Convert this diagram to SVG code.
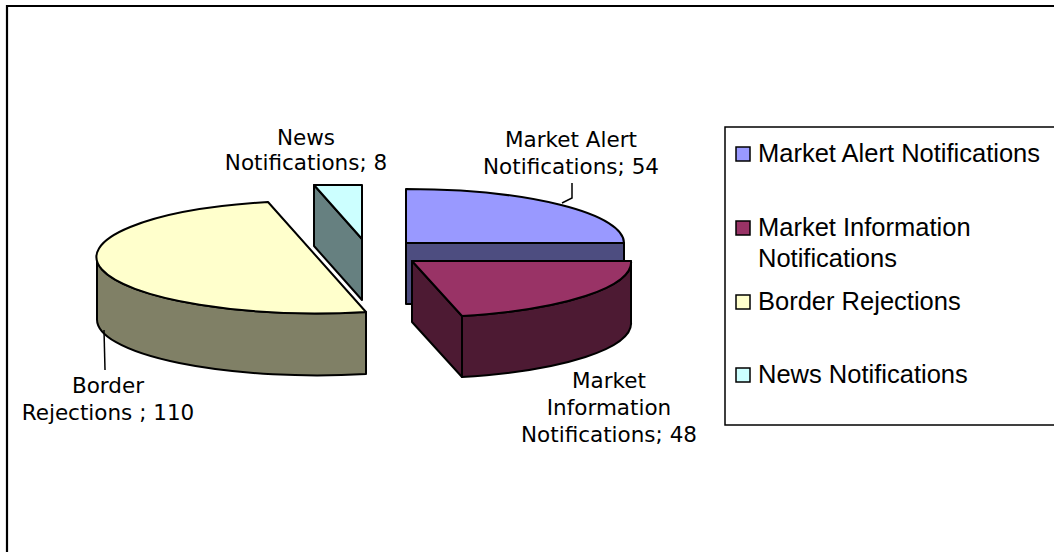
<svg xmlns="http://www.w3.org/2000/svg" width="1054" height="552" viewBox="0 0 1054 552">
<style>
.o{stroke:#000;stroke-width:2;stroke-linejoin:round}
.lbl{font-family:"DejaVu Sans",Verdana,sans-serif;font-size:21.5px;fill:#000;text-anchor:middle}
.leg{font-family:"Liberation Sans",Arial,sans-serif;font-size:25.5px;fill:#000}
.sw{stroke:#000;stroke-width:1.5}
.ln{fill:none;stroke:#000;stroke-width:1.5}
</style>
<rect x="0" y="0" width="1054" height="552" fill="#fff"/>
<path d="M7,560 V6 H1060" fill="none" stroke="#000" stroke-width="2.2"/>
<g id="market-alert">
<rect class="o" x="406" y="243" width="218" height="61" fill="#4D4D80"/>
<path class="o" d="M406,243 L624,243 A218 54 0 0 0 406 189 Z" fill="#9999FF"/>
</g>
<g id="market-information">
<path class="o" d="M412,261 L462,316 L462,377 L412,322 Z" fill="#4D1A33"/>
<path class="o" d="M631,261 A219 55 0 0 1 462 316 L462,377 A219 55 0 0 0 631 322 Z" fill="#4D1A33"/>
<path class="o" d="M412,261 L631,261 A219 55 0 0 1 462 316 Z" fill="#993366"/>
</g>
<g id="border-rejections">
<path class="o" d="M97,257 A220 56 0 0 0 366 312 L366,374 A220 56 0 0 1 97 319 Z" fill="#808066"/>
<path class="o" d="M366,312 L268,202 A219 56 0 0 0 366 312 Z" fill="#FFFFCC"/>
</g>
<g id="news">
<path class="o" d="M314,185 L362,239 L362,300 L314,246 Z" fill="#668080"/>
<path class="o" d="M314,185 L362,185 L362,239 Z" fill="#CCFFFF"/>
</g>
<g id="connectors">
<path class="ln" d="M572,183 L572,198 L562,203"/>
<path class="ln" d="M104,330 L105,370"/>
</g>
<g id="labels">
<text class="lbl" x="306" y="145">News</text>
<text class="lbl" x="306" y="170">Notifications; 8</text>
<text class="lbl" x="571" y="147">Market Alert</text>
<text class="lbl" x="571" y="174">Notifications; 54</text>
<text class="lbl" x="609" y="388">Market</text>
<text class="lbl" x="609" y="415">Information</text>
<text class="lbl" x="609" y="442">Notifications; 48</text>
<text class="lbl" x="108" y="393">Border</text>
<text class="lbl" x="108" y="420">Rejections ; 110</text>
</g>
<g id="legend">
<rect x="725" y="127" width="340" height="298" fill="#fff" stroke="#000" stroke-width="1.5"/>
<rect class="sw" x="736" y="147" width="14" height="14" fill="#9999FF"/>
<text class="leg" x="758" y="162">Market Alert Notifications</text>
<rect class="sw" x="736" y="221" width="14" height="14" fill="#993366"/>
<text class="leg" x="758" y="236">Market Information</text>
<text class="leg" x="758" y="267">Notifications</text>
<rect class="sw" x="736" y="295" width="14" height="14" fill="#FFFFCC"/>
<text class="leg" x="758" y="310">Border Rejections</text>
<rect class="sw" x="736" y="368" width="14" height="14" fill="#CCFFFF"/>
<text class="leg" x="758" y="383">News Notifications</text>
</g>
</svg>
